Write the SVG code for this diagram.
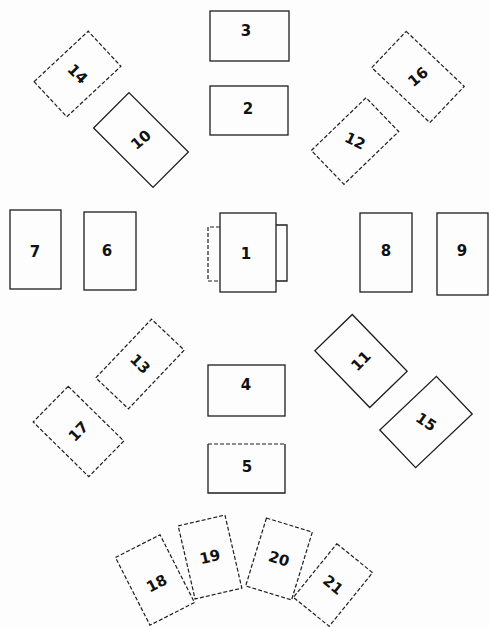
<svg xmlns="http://www.w3.org/2000/svg" width="489" height="627" viewBox="0 0 489 627">
<style>
.b{fill:none;stroke:#1e1e1e;stroke-width:1.3}
.d{fill:none;stroke:#1e1e1e;stroke-width:1.2;stroke-dasharray:4 2}
.t{font-family:"DejaVu Sans",sans-serif;font-weight:bold;font-size:15px;fill:#111;text-anchor:middle;dominant-baseline:central}
</style>
<rect width="489" height="627" fill="#fdfdfd"/>
<g id="n3"><rect class="b" x="210" y="11" width="79" height="50"/><text class="t" x="246" y="31">3</text></g>
<g id="n2"><rect class="b" x="210" y="86" width="78" height="49"/><text class="t" x="248" y="109">2</text></g>
<g id="n14" transform="translate(77.5,74) rotate(-43)"><rect class="d" x="-37" y="-24" width="74" height="48"/><text class="t" transform="rotate(88)">14</text></g>
<g id="n10" transform="translate(141,140) rotate(45)"><rect class="b" x="-42" y="-25" width="84" height="50"/><text class="t" transform="rotate(-85)">10</text></g>
<g id="n16" transform="translate(418,77) rotate(43.5)"><rect class="d" x="-40" y="-25" width="80" height="50"/><text class="t" transform="rotate(-83)">16</text></g>
<g id="n12" transform="translate(355,141) rotate(-44)"><rect class="d" x="-38" y="-23.5" width="76" height="47"/><text class="t" transform="rotate(70)">12</text></g>
<g id="n7"><rect class="b" x="10" y="210" width="51" height="79"/><text class="t" x="35" y="252">7</text></g>
<g id="n6"><rect class="b" x="84" y="212" width="52" height="78"/><text class="t" x="107" y="251">6</text></g>
<g id="n1"><path class="d" d="M220,227 H208 V281 H220"/><path class="b" d="M276,225 H287 V281 H276"/><rect class="b" x="220" y="213" width="56" height="79"/><text class="t" x="246" y="254">1</text></g>
<g id="n8"><rect class="b" x="360" y="213" width="52" height="79"/><text class="t" x="386" y="251">8</text></g>
<g id="n9"><rect class="b" x="437" y="213" width="51" height="82"/><text class="t" x="462" y="251">9</text></g>
<g id="n13" transform="translate(140,364) rotate(-46.5)"><rect class="d" x="-40.5" y="-22.5" width="81" height="45"/><text class="t" transform="rotate(91)">13</text></g>
<g id="n17" transform="translate(78.5,431.5) rotate(44.5)"><rect class="d" x="-39" y="-25" width="78" height="50"/><text class="t" transform="rotate(-90)">17</text></g>
<g id="n4"><rect class="b" x="208" y="365" width="77" height="51"/><text class="t" x="246" y="385">4</text></g>
<g id="n5"><path class="d" d="M208,444 H285"/><path class="b" d="M285,444 V493 H208 V444"/><text class="t" x="247" y="467">5</text></g>
<g id="n11" transform="translate(361,361) rotate(46)"><rect class="b" x="-39.5" y="-26" width="79" height="52"/><text class="t" transform="rotate(-91)">11</text></g>
<g id="n15" transform="translate(426,422) rotate(-43.5)"><rect class="b" x="-39" y="-26" width="78" height="52"/><text class="t" transform="rotate(78)">15</text></g>
<g id="n18" transform="translate(155,580) rotate(-27)"><rect class="d" x="-25" y="-38" width="50" height="76"/><text class="t" y="4">18</text></g>
<g id="n19" transform="translate(210,557) rotate(-13)"><rect class="d" x="-24" y="-37.5" width="48" height="75"/><text class="t">19</text></g>
<g id="n20" transform="translate(279,559) rotate(17)"><rect class="d" x="-24" y="-35.5" width="48" height="71"/><text class="t">20</text></g>
<g id="n21" transform="translate(333,585) rotate(39)"><rect class="d" x="-23" y="-34.5" width="46" height="69"/><text class="t">21</text></g>
<g id="connectors"></g>
</svg>
